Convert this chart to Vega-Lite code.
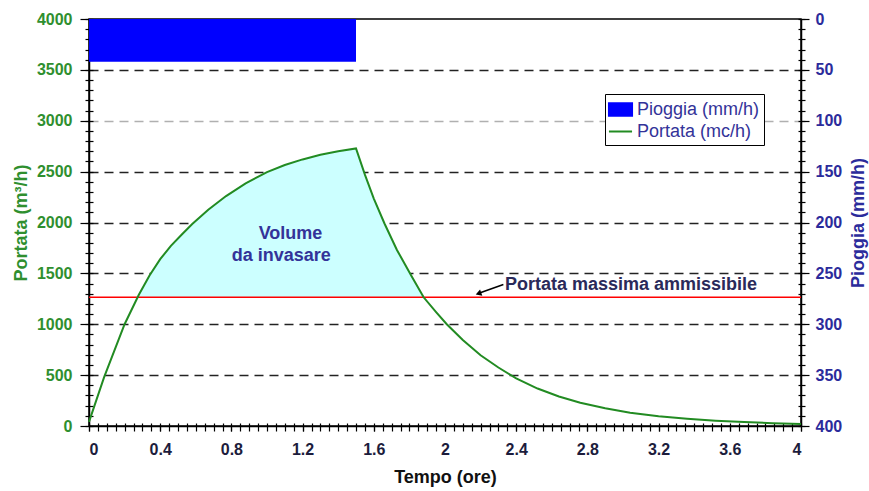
{
  "$schema": "https://vega.github.io/schema/vega-lite/v6.json",
  "width": 712,
  "height": 407,
  "autosize": {"type": "none"},
  "padding": {"left": 89, "top": 19, "right": 68, "bottom": 65},
  "background": "white",
  "config": {
    "font": "Liberation Sans",
    "view": {"stroke": "black", "strokeWidth": 1.5},
    "axis": {
      "labelFont": "Liberation Sans", "labelFontWeight": "bold", "labelFontSize": 16,
      "titleFont": "Liberation Sans", "titleFontWeight": "bold", "titleFontSize": 18,
      "domainColor": "black", "tickColor": "black", "domainWidth": 1.5, "tickWidth": 1.2
    }
  },
  "datasets": {
    "portata": [
      {"t": 0, "q": 40, "serie": "Portata (mc/h)"},
      {"t": 0.085, "q": 480, "serie": "Portata (mc/h)"},
      {"t": 0.2, "q": 1000, "serie": "Portata (mc/h)"},
      {"t": 0.28, "q": 1290, "serie": "Portata (mc/h)"},
      {"t": 0.34, "q": 1480, "serie": "Portata (mc/h)"},
      {"t": 0.4, "q": 1640, "serie": "Portata (mc/h)"},
      {"t": 0.46, "q": 1770, "serie": "Portata (mc/h)"},
      {"t": 0.52, "q": 1880, "serie": "Portata (mc/h)"},
      {"t": 0.58, "q": 1985, "serie": "Portata (mc/h)"},
      {"t": 0.67, "q": 2125, "serie": "Portata (mc/h)"},
      {"t": 0.77, "q": 2260, "serie": "Portata (mc/h)"},
      {"t": 0.88, "q": 2385, "serie": "Portata (mc/h)"},
      {"t": 1.0, "q": 2495, "serie": "Portata (mc/h)"},
      {"t": 1.1, "q": 2565, "serie": "Portata (mc/h)"},
      {"t": 1.2, "q": 2620, "serie": "Portata (mc/h)"},
      {"t": 1.3, "q": 2665, "serie": "Portata (mc/h)"},
      {"t": 1.4, "q": 2700, "serie": "Portata (mc/h)"},
      {"t": 1.5, "q": 2728, "serie": "Portata (mc/h)"},
      {"t": 1.55, "q": 2470, "serie": "Portata (mc/h)"},
      {"t": 1.6, "q": 2235, "serie": "Portata (mc/h)"},
      {"t": 1.66, "q": 1990, "serie": "Portata (mc/h)"},
      {"t": 1.73, "q": 1730, "serie": "Portata (mc/h)"},
      {"t": 1.81, "q": 1480, "serie": "Portata (mc/h)"},
      {"t": 1.88, "q": 1265, "serie": "Portata (mc/h)"},
      {"t": 1.95, "q": 1120, "serie": "Portata (mc/h)"},
      {"t": 2.01, "q": 1000, "serie": "Portata (mc/h)"},
      {"t": 2.1, "q": 845, "serie": "Portata (mc/h)"},
      {"t": 2.2, "q": 695, "serie": "Portata (mc/h)"},
      {"t": 2.3, "q": 575, "serie": "Portata (mc/h)"},
      {"t": 2.4, "q": 468, "serie": "Portata (mc/h)"},
      {"t": 2.52, "q": 368, "serie": "Portata (mc/h)"},
      {"t": 2.64, "q": 290, "serie": "Portata (mc/h)"},
      {"t": 2.76, "q": 228, "serie": "Portata (mc/h)"},
      {"t": 2.9, "q": 175, "serie": "Portata (mc/h)"},
      {"t": 3.04, "q": 131, "serie": "Portata (mc/h)"},
      {"t": 3.2, "q": 96, "serie": "Portata (mc/h)"},
      {"t": 3.36, "q": 71, "serie": "Portata (mc/h)"},
      {"t": 3.52, "q": 52, "serie": "Portata (mc/h)"},
      {"t": 3.68, "q": 39, "serie": "Portata (mc/h)"},
      {"t": 3.84, "q": 28, "serie": "Portata (mc/h)"},
      {"t": 4.0, "q": 20, "serie": "Portata (mc/h)"}
    ],
    "volume": [
      {"t": 0.273, "q": 1265},
      {"t": 0.28, "q": 1290},
      {"t": 0.34, "q": 1480},
      {"t": 0.4, "q": 1640},
      {"t": 0.46, "q": 1770},
      {"t": 0.52, "q": 1880},
      {"t": 0.58, "q": 1985},
      {"t": 0.67, "q": 2125},
      {"t": 0.77, "q": 2260},
      {"t": 0.88, "q": 2385},
      {"t": 1.0, "q": 2495},
      {"t": 1.1, "q": 2565},
      {"t": 1.2, "q": 2620},
      {"t": 1.3, "q": 2665},
      {"t": 1.4, "q": 2700},
      {"t": 1.5, "q": 2728},
      {"t": 1.55, "q": 2470},
      {"t": 1.6, "q": 2235},
      {"t": 1.66, "q": 1990},
      {"t": 1.73, "q": 1730},
      {"t": 1.81, "q": 1480},
      {"t": 1.88, "q": 1265}
    ],
    "pioggia": [{"t0": 0, "t1": 1.5, "p": 42, "serie": "Pioggia (mm/h)"}],
    "soglia": [{"q": 1265}],
    "etichette": [
      {"t": 1.132, "q": 1833, "label": "Volume"},
      {"t": 1.08, "q": 1620, "label": "da invasare"}
    ],
    "nota": [{"t": 2.337, "q": 1341, "label": "Portata massima ammissibile"}],
    "freccia": [{"t": 2.328, "q": 1391, "t2": 2.19, "q2": 1304}],
    "punta": [{"t": 2.188, "q": 1302}]
  },
  "layer": [
    {
      "layer": [
        {
          "data": {"name": "volume"},
          "mark": {"type": "area", "color": "#ccffff", "opacity": 1},
          "encoding": {
            "x": {
              "field": "t", "type": "quantitative",
              "scale": {"domain": [0, 4], "nice": false, "zero": false},
              "axis": {
                "title": "Tempo (ore)", "titleColor": "#111111", "labelColor": "#1c1c3c",
                "values": [0, 0.4, 0.8, 1.2, 1.6, 2, 2.4, 2.8, 3.2, 3.6, 4],
                "format": "~g", "tickSize": 5, "labelPadding": 10, "titlePadding": 11, "grid": false
              }
            },
            "y": {
              "field": "q", "type": "quantitative",
              "scale": {"domain": [0, 4000], "nice": false},
              "axis": {
                "title": "Portata (m³/h)", "titleColor": "#2f8f2f", "labelColor": "#2f8f2f",
                "values": [0, 500, 1000, 1500, 2000, 2500, 3000, 3500, 4000],
                "format": "d", "tickSize": 9, "labelPadding": 8, "titlePadding": 6,
                "grid": true, "gridDash": [9, 6], "gridWidth": 1.5,
                "gridColor": {"condition": {"test": "datum.value == 3000", "value": "#b0b0b0"}, "value": "#222222"},
                "gridOpacity": {"condition": {"test": "datum.value == 0 || datum.value == 4000", "value": 0}, "value": 1}
              }
            },
            "y2": {"datum": 1265}
          }
        },
        {
          "data": {"name": "soglia"},
          "mark": {"type": "rule", "color": "#ff0000", "strokeWidth": 1.6},
          "encoding": {"y": {"field": "q", "type": "quantitative"}}
        },
        {
          "data": {"name": "portata"},
          "mark": {"type": "line", "strokeWidth": 2},
          "encoding": {
            "x": {"field": "t", "type": "quantitative"},
            "y": {"field": "q", "type": "quantitative"},
            "color": {
              "field": "serie", "type": "nominal",
              "scale": {"domain": ["Pioggia (mm/h)", "Portata (mc/h)"], "range": ["#0000ff", "#228b22"]},
              "legend": {
                "orient": "none", "legendX": 516, "legendY": 75, "title": null,
                "fillColor": "white", "strokeColor": "black", "padding": 4,
                "symbolSize": 441, "labelFontSize": 18, "labelColor": "#333399",
                "labelFont": "Liberation Sans", "labelOffset": 5, "rowPadding": 0,
                "encode": {
                  "symbols": {
                    "update": {
                      "shape": {"signal": "datum.value === 'Pioggia (mm/h)' ? 'M-1.1,-0.6H1.1V0.6H-1.1Z' : 'M-1.1,0H1.1'"},
                      "fill": {"signal": "datum.value === 'Pioggia (mm/h)' ? '#0000ff' : 'transparent'"},
                      "stroke": {"signal": "datum.value === 'Pioggia (mm/h)' ? '#0000ff' : '#228b22'"},
                      "strokeWidth": {"value": 2},
                      "opacity": {"value": 1}
                    }
                  }
                }
              }
            }
          }
        },
        {
          "data": {"name": "etichette"},
          "mark": {"type": "text", "align": "center", "baseline": "alphabetic", "fontSize": 18, "fontWeight": "bold", "color": "#333399"},
          "encoding": {
            "x": {"field": "t", "type": "quantitative"},
            "y": {"field": "q", "type": "quantitative"},
            "text": {"field": "label"}
          }
        },
        {
          "data": {"name": "nota"},
          "mark": {"type": "text", "align": "left", "baseline": "alphabetic", "fontSize": 18, "fontWeight": "bold", "color": "#2a2a5a"},
          "encoding": {
            "x": {"field": "t", "type": "quantitative"},
            "y": {"field": "q", "type": "quantitative"},
            "text": {"field": "label"}
          }
        },
        {
          "data": {"name": "freccia"},
          "mark": {"type": "rule", "color": "black", "strokeWidth": 1.5},
          "encoding": {
            "x": {"field": "t", "type": "quantitative"},
            "y": {"field": "q", "type": "quantitative"},
            "x2": {"field": "t2"},
            "y2": {"field": "q2"}
          }
        },
        {
          "data": {"name": "punta"},
          "mark": {"type": "point", "shape": "triangle-left", "filled": true, "color": "black", "size": 45, "angle": 340, "opacity": 1},
          "encoding": {
            "x": {"field": "t", "type": "quantitative"},
            "y": {"field": "q", "type": "quantitative"}
          }
        }
      ]
    },
    {
      "data": {"name": "pioggia"},
      "mark": {"type": "rect"},
      "encoding": {
        "x": {"field": "t0", "type": "quantitative", "axis": null},
        "x2": {"field": "t1"},
        "y": {
          "field": "p", "type": "quantitative",
          "scale": {"domain": [0, 400], "reverse": true, "nice": false},
          "axis": {
            "orient": "right", "title": "Pioggia (mm/h)", "titleAngle": 270, "titleBaseline": "top",
            "titleColor": "#2b2b9b", "labelColor": "#2b2b9b",
            "values": [0, 50, 100, 150, 200, 250, 300, 350, 400],
            "format": "d", "tickSize": 8, "labelPadding": 6, "titlePadding": 8, "grid": false
          }
        },
        "y2": {"datum": 0},
        "color": {"field": "serie", "type": "nominal"}
      }
    },
    {
      "data": {"name": "portata"},
      "mark": {"type": "point", "opacity": 0},
      "encoding": {
        "x": {
          "field": "t", "type": "quantitative",
          "axis": {"orient": "bottom", "title": null, "labels": false, "domain": false, "grid": false, "tickSize": -3,
            "values": [0,0.05,0.1,0.15,0.2,0.25,0.3,0.35,0.4,0.45,0.5,0.55,0.6,0.65,0.7,0.75,0.8,0.85,0.9,0.95,1,1.05,1.1,1.15,1.2,1.25,1.3,1.35,1.4,1.45,1.5,1.55,1.6,1.65,1.7,1.75,1.8,1.85,1.9,1.95,2,2.05,2.1,2.15,2.2,2.25,2.3,2.35,2.4,2.45,2.5,2.55,2.6,2.65,2.7,2.75,2.8,2.85,2.9,2.95,3,3.05,3.1,3.15,3.2,3.25,3.3,3.35,3.4,3.45,3.5,3.55,3.6,3.65,3.7,3.75,3.8,3.85,3.9,3.95,4]}
        },
        "y": {
          "field": "q", "type": "quantitative",
          "scale": {"domain": [0, 4000], "nice": false},
          "axis": {"orient": "left", "title": null, "labels": false, "domain": false, "grid": false, "tickSize": -4,
            "values": [0,100,200,300,400,500,600,700,800,900,1000,1100,1200,1300,1400,1500,1600,1700,1800,1900,2000,2100,2200,2300,2400,2500,2600,2700,2800,2900,3000,3100,3200,3300,3400,3500,3600,3700,3800,3900,4000]}
        }
      }
    },
    {
      "data": {"name": "portata"},
      "mark": {"type": "point", "opacity": 0},
      "encoding": {
        "x": {
          "field": "t", "type": "quantitative",
          "axis": {"orient": "bottom", "title": null, "labels": false, "domain": false, "grid": false, "tickSize": 5,
            "values": [0,0.05,0.1,0.15,0.2,0.25,0.3,0.35,0.4,0.45,0.5,0.55,0.6,0.65,0.7,0.75,0.8,0.85,0.9,0.95,1,1.05,1.1,1.15,1.2,1.25,1.3,1.35,1.4,1.45,1.5,1.55,1.6,1.65,1.7,1.75,1.8,1.85,1.9,1.95,2,2.05,2.1,2.15,2.2,2.25,2.3,2.35,2.4,2.45,2.5,2.55,2.6,2.65,2.7,2.75,2.8,2.85,2.9,2.95,3,3.05,3.1,3.15,3.2,3.25,3.3,3.35,3.4,3.45,3.5,3.55,3.6,3.65,3.7,3.75,3.8,3.85,3.9,3.95,4]}
        },
        "y": {
          "field": "q", "type": "quantitative",
          "scale": {"domain": [0, 4000], "nice": false},
          "axis": {"orient": "left", "title": null, "labels": false, "domain": false, "grid": false, "tickSize": 4,
            "values": [0,100,200,300,400,500,600,700,800,900,1000,1100,1200,1300,1400,1500,1600,1700,1800,1900,2000,2100,2200,2300,2400,2500,2600,2700,2800,2900,3000,3100,3200,3300,3400,3500,3600,3700,3800,3900,4000]}
        }
      }
    },
    {
      "data": {"name": "pioggia"},
      "mark": {"type": "point", "opacity": 0},
      "encoding": {
        "y": {
          "field": "p", "type": "quantitative",
          "scale": {"domain": [0, 400], "reverse": true, "nice": false},
          "axis": {"orient": "right", "title": null, "labels": false, "domain": false, "grid": false, "tickSize": -3,
            "values": [0,10,20,30,40,50,60,70,80,90,100,110,120,130,140,150,160,170,180,190,200,210,220,230,240,250,260,270,280,290,300,310,320,330,340,350,360,370,380,390,400]}
        }
      }
    },
    {
      "data": {"name": "pioggia"},
      "mark": {"type": "point", "opacity": 0},
      "encoding": {
        "y": {
          "field": "p", "type": "quantitative",
          "scale": {"domain": [0, 400], "reverse": true, "nice": false},
          "axis": {"orient": "right", "title": null, "labels": false, "domain": false, "grid": false, "tickSize": 4,
            "values": [0,10,20,30,40,50,60,70,80,90,100,110,120,130,140,150,160,170,180,190,200,210,220,230,240,250,260,270,280,290,300,310,320,330,340,350,360,370,380,390,400]}
        }
      }
    }
  ],
  "resolve": {"scale": {"y": "independent"}, "axis": {"x": "independent", "y": "independent"}}
}
